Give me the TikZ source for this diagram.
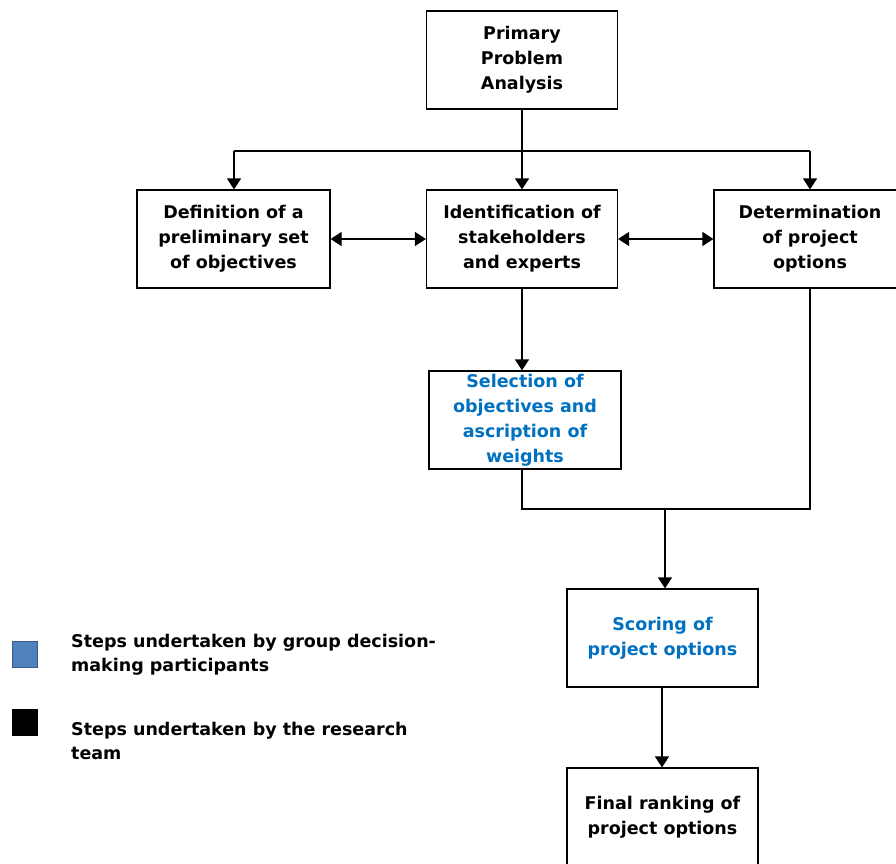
\documentclass[tikz,border=0pt]{standalone}
\usepackage{fontspec}
\setmainfont{DejaVu Sans}
\usetikzlibrary{arrows.meta}
\definecolor{stepblue}{HTML}{0070C0}
\definecolor{legblue}{HTML}{4F81BD}
\definecolor{legblueedge}{HTML}{385D8A}
\begin{document}
\begin{tikzpicture}[x=1pt,y=-1pt,
  box/.style={draw=black,line width=1.2pt,fill=white,minimum width=191pt,minimum height=98pt,
    align=center,inner sep=2pt,font=\fontsize{17.5}{25}\selectfont\bfseries},
  bluebox/.style={box,text=stepblue},
  conn/.style={line width=1.2pt,draw=black},
  tip/.style={-{Triangle[width=14pt,length=11pt]}},
  bitip/.style={{Triangle[width=14pt,length=11pt]}-{Triangle[width=14pt,length=11pt]}},
  legtext/.style={align=left,anchor=west,inner sep=0pt,font=\fontsize{17.5}{24}\selectfont\bfseries}]
\clip (0,0) rectangle (896,863);
\fill[white] (0,0) rectangle (896,863);
\node[box] (pri) at (522,60) {Primary\\Problem\\Analysis};
\node[box,minimum width=193pt] (def) at (233.5,239) {Definition of a\\preliminary set\\of objectives};
\node[box] (ide) at (522,239) {Identification of\\stakeholders\\and experts};
\node[box,minimum width=192pt] (det) at (810,239) {Determination\\of project\\options};
\node[bluebox,minimum width=192pt] (sel) at (525,420) {Selection of\\objectives and\\ascription of\\weights};
\node[bluebox] (sco) at (662.5,638) {Scoring of\\project options};
\node[box] (fin) at (662.5,817) {Final ranking of\\project options};
\coordinate (split) at (522,151);
\coordinate (splitL) at (234,151);
\coordinate (splitR) at (810,151);
\coordinate (join) at (665,509);
\coordinate (scob) at (662,687);
\draw[conn,tip] (pri.south) -- (ide.north);
\draw[conn,tip] (splitL) -- (splitL |- def.north);
\draw[conn,tip] (splitR) -- (det.north);
\draw[conn] (splitL) -- (splitR);
\draw[conn,bitip] (def.east) -- (ide.west);
\draw[conn,bitip] (ide.east) -- (det.west);
\draw[conn,tip] (ide.south) -- (ide.south |- sel.north);
\draw[conn] (ide.south |- sel.south) -- (522,509) -- (det.south |- join) -- (det.south);
\draw[conn,tip] (join) -- (join |- sco.north);
\draw[conn,tip] (scob) -- (scob |- fin.north);
\node[draw=legblueedge,fill=legblue,line width=1pt,minimum width=25pt,minimum height=26pt,inner sep=0pt] (legb) at (25,654) {};
\node[draw=black,fill=black,line width=1pt,minimum width=25pt,minimum height=26pt,inner sep=0pt] (legk) at (25,722) {};
\node[legtext] (legbt) at (71,655) {Steps undertaken by group decision-\\making participants};
\node[legtext] (legkt) at (71,741) {Steps undertaken by the research\\team};
\end{tikzpicture}
\end{document}
